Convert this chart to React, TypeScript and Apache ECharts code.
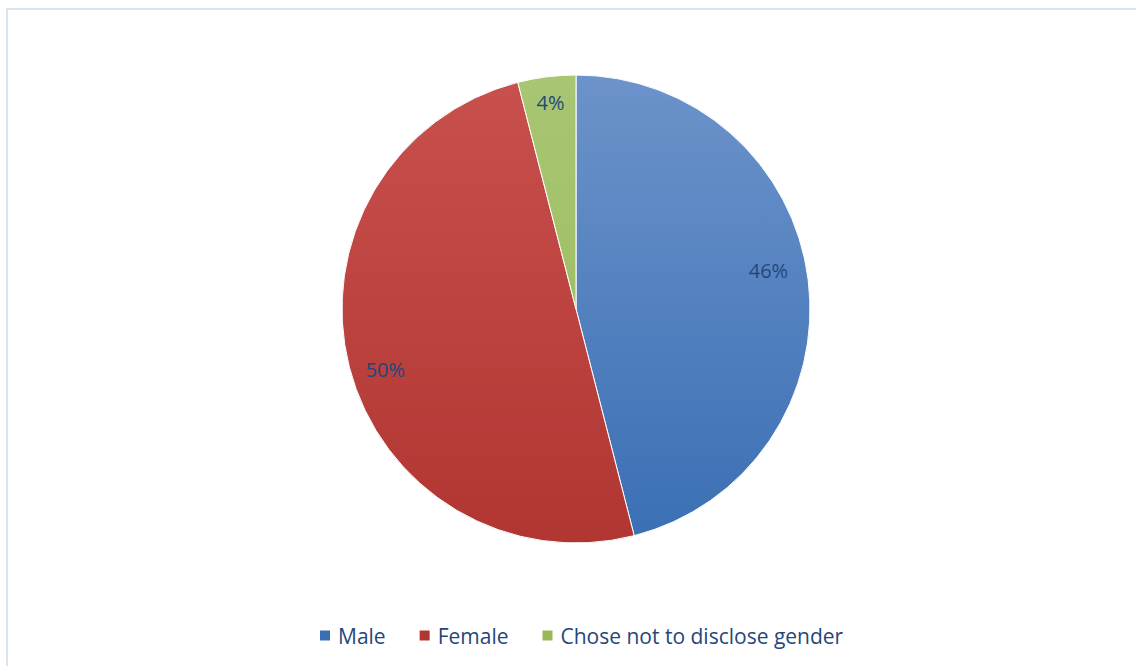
import React, { useEffect, useRef } from "react";
import * as echarts from "echarts";

const categories = ["Male", "Female", "Chose not to disclose gender"];
const values = [46, 50, 4];
const topColors = ["#6c93ca", "#c8504d", "#a8c673"];
const bottomColors = ["#3a6fb4", "#b13632", "#98b956"];
const labelNudges = [
  [-9, -13],
  [6, 10],
  [0, -5],
];

export default function App() {
  const ref = useRef<HTMLDivElement>(null);
  useEffect(() => {
    const chart = echarts.init(ref.current!, null, { renderer: "svg" });
    const grad = (i: number) => ({
      type: "linear",
      x: 0,
      y: 75,
      x2: 0,
      y2: 543,
      global: true,
      colorStops: [
        { offset: 0, color: topColors[i] },
        { offset: 1, color: bottomColors[i] },
      ],
    });
    const data = categories.map((name, i) => ({
      name,
      value: values[i],
      itemStyle: { color: grad(i) as any },
    }));
    chart.setOption({
      animation: false,
      legend: {
        data: categories.map((name, i) => ({ name, itemStyle: { color: bottomColors[i] } })),
        top: 620,
        left: 313,
        icon: "rect",
        itemWidth: 12,
        itemHeight: 12,
        itemGap: 32,
        textStyle: { fontFamily: "Open Sans", fontSize: 21, color: "#24477a", padding: [0, 0, 0, 2] },
      },
      series: [
        {
          type: "pie",
          center: [576, 309],
          radius: [0, 234],
          startAngle: 90,
          clockwise: true,
          data,
          label: { show: false },
          labelLine: { show: false },
          itemStyle: { borderColor: "#ffffff", borderWidth: 1 },
          emphasis: { disabled: true },
          silent: true,
        },
        {
          type: "pie",
          center: [576, 309],
          radius: [166, 234],
          startAngle: 90,
          clockwise: true,
          data: categories.map((name, i) => ({
            name,
            value: values[i],
            label: { offset: labelNudges[i] },
          })),
          itemStyle: { color: "rgba(0,0,0,0)" },
          label: {
            show: true,
            position: "inside",
            formatter: "{d}%",
            fontFamily: "Open Sans",
            fontSize: 20,
            color: "#24477a",
          },
          labelLine: { show: false },
          emphasis: { disabled: true },
          silent: true,
        },
      ],
    });
    return () => chart.dispose();
  }, []);
  return (
    <div style={{ position: "fixed", left: 0, top: 0, width: 1136, height: 666, background: "#fff", overflow: "hidden" }}>
      <div
        style={{
          position: "absolute",
          left: 6,
          top: 8,
          width: 1200,
          height: 700,
          border: "2px solid #d9e5f3",
          boxSizing: "border-box",
        }}
      />
      <div ref={ref} style={{ position: "absolute", left: 0, top: 0, width: 1136, height: 666 }} />
    </div>
  );
}
